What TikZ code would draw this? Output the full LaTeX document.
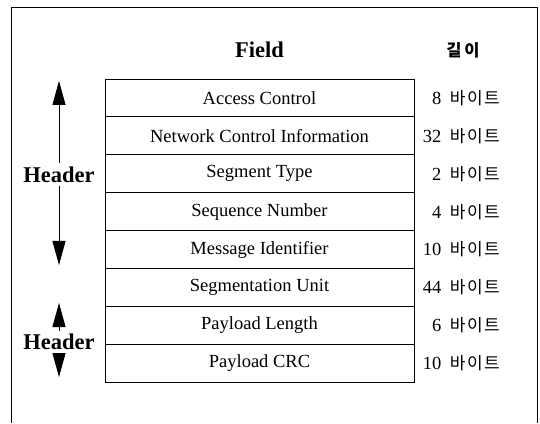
\documentclass[tikz,border=0pt]{standalone}
\usepackage{fontspec}
\setmainfont{Liberation Serif}
\newfontfamily\kofont{Noto Sans CJK KR}
\usetikzlibrary{arrows.meta, positioning}
\newcommand{\byte}{\hspace{4pt}{\kofont\fontsize{17}{18}\selectfont 바\kern1.5pt 이\kern1.5pt 트}}

\begin{document}
\begin{tikzpicture}[
  x=1pt, y=1pt,
  font=\fontsize{18.5}{20}\selectfont,
  row/.style={draw, line width=0.9pt, minimum width=309pt, minimum height=37.9pt, inner sep=0pt, outer sep=0pt},
  len/.style={anchor=east, inner sep=0pt},
  head/.style={font=\fontsize{22.5}{24}\selectfont\bfseries},
  kohead/.style={font=\fontsize{16.5}{18}\selectfont\kofont\bfseries},
  arrow/.style={-{Triangle[length=24pt, width=13pt]}, line width=0.8pt}
]
\useasboundingbox (0,0) rectangle (540,423);

% frame, open at the bottom
\draw[line width=0.8pt] (11,0) |- (537,416) -- (537,0);

% column titles
\node[head] (field) at (259.5,373) {Field};
\node[kohead] (len) at (463,373) {길\,이};

% the fields
\node[row] (ac) at (259.5,325.05) {Access Control};
\node[row, below=0pt of ac] (nci) {Network Control Information};
\node[row, below=0pt of nci] (st) {Segment Type};
\node[row, below=0pt of st] (sn) {Sequence Number};
\node[row, below=0pt of sn] (mi) {Message Identifier};
\node[row, below=0pt of mi] (su) {Segmentation Unit};
\node[row, below=0pt of su] (pl) {Payload Length};
\node[row, below=0pt of pl] (crc) {Payload CRC};

% their lengths
\coordinate (lencol) at (500,0);
\node[len] (lac) at (ac -| lencol) {8 \byte};
\node[len] (lnci) at (nci -| lencol) {32 \byte};
\node[len] (lst) at (st -| lencol) {2 \byte};
\node[len] (lsn) at (sn -| lencol) {4 \byte};
\node[len] (lmi) at (mi -| lencol) {10 \byte};
\node[len] (lsu) at (su -| lencol) {44 \byte};
\node[len] (lpl) at (pl -| lencol) {6 \byte};
\node[len] (lcrc) at (crc -| lencol) {10 \byte};

% header spans
\node[head] (hd1) at (59,248.5) {Header};
\coordinate (hd1top) at (59,342);
\coordinate (hd1bot) at (59,158);
\draw[arrow] (hd1) -- (hd1top);
\draw[arrow] (hd1) -- (hd1bot);

\node[head] (hd2) at (59,81) {Header};
\coordinate (hd2top) at (59,120);
\coordinate (hd2bot) at (59,46);
\draw[arrow] (hd2) -- (hd2top);
\draw[arrow] (hd2) -- (hd2bot);

\end{tikzpicture}
\end{document}
